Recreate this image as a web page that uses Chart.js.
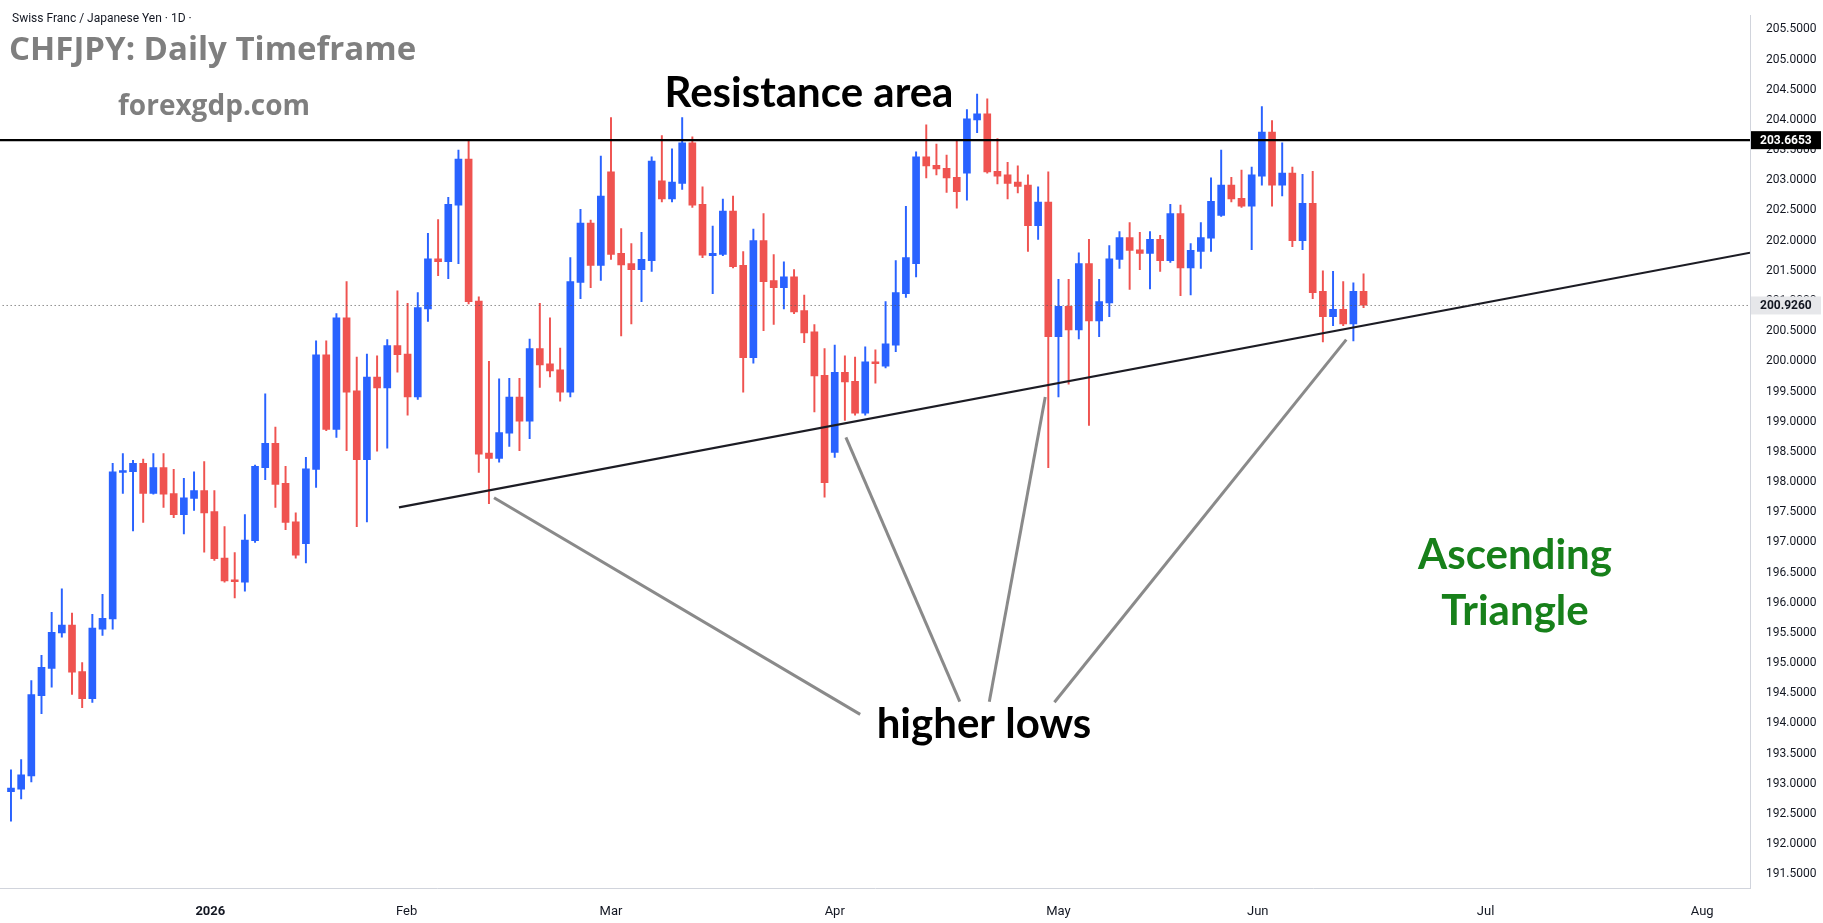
<!DOCTYPE html>
<html>
<head>
<meta charset="utf-8">
<script src="https://cdn.jsdelivr.net/npm/chart.js@4"></script>
<style>
  body { margin: 0; background: #fff; }
  #wrap { width: 1823px; height: 923px; }
</style>
</head>
<body>
<div id="wrap"><canvas id="chart" width="1823" height="923"></canvas></div>
<script>
// daily candles, index 0 = early Dec 2025
const opens  = [192.87,192.91,193.13,194.46,194.91,195.5,195.63,194.86,194.41,195.56,195.73,198.16,198.17,198.31,197.81,198.24,197.81,197.46,197.73,197.86,197.51,196.74,196.38,196.34,197.03,198.24,198.64,197.98,197.34,196.98,198.21,200.11,198.87,200.72,199.51,198.37,199.74,199.56,200.26,200.12,199.41,200.87,201.7,201.65,202.59,203.35,201.0,198.48,198.39,198.81,199.41,199.01,200.21,199.96,199.86,199.49,201.31,202.29,201.59,203.14,201.79,201.62,201.52,201.67,202.99,202.69,202.95,203.62,202.6,201.75,201.77,202.49,201.59,200.06,202.0,201.34,201.22,201.4,200.84,200.49,199.77,198.49,199.82,199.67,199.14,199.99,199.92,200.27,201.12,201.62,203.39,203.25,203.2,203.05,203.12,204.0,204.1,203.15,203.09,202.97,202.92,202.25,202.64,200.41,200.91,200.52,201.62,200.67,200.97,201.69,202.05,201.85,201.79,202.02,201.67,202.45,201.55,201.82,202.04,202.42,202.92,202.7,202.57,203.07,203.8,202.92,203.12,202.0,202.62,201.16,200.74,200.86,200.62,201.16];
const highs  = [193.23,193.4,194.71,195.13,195.84,196.23,195.83,195.01,195.81,196.14,198.31,198.47,198.36,198.38,198.47,198.47,198.21,198.06,198.17,198.34,197.86,197.26,196.83,197.46,198.28,199.46,198.91,198.26,197.49,198.41,200.34,200.34,200.79,201.32,200.07,200.12,200.09,200.36,201.17,200.96,201.14,202.12,202.35,202.72,203.5,203.68,201.07,200.0,199.71,199.72,199.72,200.37,200.96,200.72,200.22,201.72,202.52,202.34,203.4,204.04,202.2,201.95,202.14,203.39,203.74,203.52,204.04,203.72,202.89,202.24,202.69,202.74,201.82,202.19,202.45,201.77,201.65,201.52,201.1,200.61,200.21,200.27,200.09,200.07,200.24,200.19,200.99,201.67,202.57,203.47,203.92,203.6,203.42,203.67,204.17,204.43,204.35,203.69,203.3,203.24,203.09,202.89,203.14,201.36,201.36,201.8,202.02,201.36,201.92,202.15,202.3,202.14,202.15,202.09,202.6,202.59,201.95,202.3,203.04,203.5,203.05,203.17,203.22,204.22,203.99,203.62,203.22,203.1,203.15,201.5,201.49,201.32,201.3,201.45];
const lows   = [192.38,192.75,193.03,194.16,194.6,195.43,194.48,194.26,194.35,195.46,195.56,197.81,197.19,197.33,197.8,197.58,197.41,197.14,197.53,196.84,196.7,196.34,196.08,196.19,197.0,198.04,197.58,197.21,196.74,196.66,197.91,198.85,198.74,198.52,197.26,197.34,198.51,198.56,199.82,199.11,199.37,200.66,201.42,201.37,201.62,200.95,198.16,197.64,198.33,198.59,198.52,198.72,199.57,199.74,199.34,199.41,201.04,201.22,201.34,201.69,200.42,200.62,200.99,201.49,202.64,202.64,202.85,202.55,201.72,201.12,201.75,201.55,199.49,199.97,200.51,200.61,200.87,200.79,200.31,199.16,197.75,198.41,199.02,199.11,199.11,199.64,199.89,200.16,201.06,201.4,203.04,203.09,202.8,202.54,202.67,203.79,203.12,202.94,202.69,202.79,201.82,202.02,198.24,199.41,199.62,200.37,198.94,200.41,200.74,201.54,201.19,201.52,201.2,201.49,201.64,201.09,201.1,201.54,201.82,202.4,202.64,202.55,201.85,202.92,202.57,202.74,201.9,201.85,201.04,200.32,200.59,200.59,200.34,200.89];
const closes = [192.93,193.15,194.48,194.93,195.51,195.63,194.85,194.41,195.58,195.74,198.17,198.19,198.31,197.81,198.24,197.8,197.46,197.74,197.86,197.49,196.73,196.36,196.35,197.04,198.26,198.64,197.96,197.33,196.79,198.22,200.11,198.87,200.72,199.49,198.37,199.74,199.56,200.26,200.11,199.41,200.89,201.7,201.65,202.6,203.35,200.99,198.46,198.39,198.82,199.41,199.01,200.21,199.94,199.84,199.49,201.32,202.29,201.59,202.74,201.77,201.6,201.52,201.69,203.32,202.69,202.97,203.62,202.59,201.76,201.79,202.49,201.57,200.06,202.0,201.32,201.22,201.4,200.82,200.47,199.76,197.99,199.82,199.66,199.14,199.99,199.96,200.29,201.14,201.72,203.39,203.24,203.19,203.04,202.81,204.02,204.1,203.14,203.07,202.95,202.9,202.25,202.64,200.41,200.91,200.52,201.62,200.67,200.99,201.7,202.05,201.84,201.79,202.02,201.67,202.45,201.55,201.84,202.05,202.65,202.92,202.69,202.57,203.09,203.8,202.92,203.12,202.0,202.62,201.14,200.74,200.86,200.62,201.16,200.93];

// month labels sit at bar positions
const monthPos    = [19.6, 38.9, 59.0, 81.0, 103.0, 122.6, 145.0, 166.3];
const monthLabels = ['2026', 'Feb', 'Mar', 'Apr', 'May', 'Jun', 'Jul', 'Aug'];

const priceTicks = [];
for (let v = 191.5; v <= 205.5001; v += 0.5) priceTicks.push(+v.toFixed(1));

const resistance = 203.6653;
const lastPrice = 200.926;
const trendLine = [{ x: 38.15, y: 197.58 }, { x: 171, y: 201.80 }];
const pointers = [
  [{ x: 47.5, y: 197.74 }, { x: 83.5, y: 194.15 }],
  [{ x: 82.1, y: 198.74 }, { x: 93.3, y: 194.36 }],
  [{ x: 101.7, y: 199.41 }, { x: 96.2, y: 194.36 }],
  [{ x: 131.3, y: 200.36 }, { x: 102.6, y: 194.35 }]
];

const UP = '#2962ff', DOWN = '#ef5350';
const colorOf = i => closes[i] >= opens[i] ? UP : DOWN;

const bodies = opens.map((o, i) => {
  let c = closes[i];
  if (Math.abs(c - o) < 0.02) c = o + (c >= o ? 0.02 : -0.02);
  return { x: i, y: [o, c] };
});
const wicks = opens.map((o, i) => ({ x: i, y: [lows[i], highs[i]] }));

const datasets = [
  { type: 'bar', data: wicks, backgroundColor: opens.map((o, i) => colorOf(i)), barThickness: 1.3, grouped: false, order: 2 },
  { type: 'bar', data: bodies, backgroundColor: opens.map((o, i) => colorOf(i)), barThickness: 7, grouped: false, order: 1 },
  { type: 'line', data: [{ x: -2, y: resistance }, { x: 172, y: resistance }], borderColor: '#000', borderWidth: 2.2, pointRadius: 0, order: 0 },
  { type: 'line', data: [{ x: -2, y: lastPrice }, { x: 172, y: lastPrice }], borderColor: '#555', borderWidth: 1, borderDash: [1, 3], pointRadius: 0, order: 0 },
  { type: 'line', data: trendLine, borderColor: '#1c1c24', borderWidth: 2.2, pointRadius: 0, order: 0 }
];
pointers.forEach(p => datasets.push({ type: 'line', data: p, borderColor: '#8a8a8a', borderWidth: 3, pointRadius: 0, order: 0 }));

const overlay = {
  id: 'overlay',
  afterDraw(chart) {
    const g = chart.ctx, y = chart.scales.y, area = chart.chartArea;
    g.save();
    g.textBaseline = 'middle';
    g.fillStyle = '#131722';
    g.font = '12px Roboto';
    g.fillText('Swiss Franc / Japanese Yen · 1D ·', 12, 19);
    g.fillStyle = '#7f7f7f';
    g.font = 'bold 33px "Open Sans"';
    g.fillText('CHFJPY: Daily Timeframe', 9, 51);
    g.font = 'bold 28px "Open Sans"';
    g.fillText('forexgdp.com', 118, 107);
    g.fillStyle = '#000';
    g.font = 'bold 42px Lato';
    g.textAlign = 'center';
    g.fillText('Resistance area', 809, 93);
    g.fillText('higher lows', 984, 724);
    g.fillStyle = '#17801a';
    g.fillText('Ascending', 1515, 555);
    g.fillText('Triangle', 1515, 611);

    // last value boxes on the price axis
    g.textAlign = 'left';
    g.font = 'bold 12px Roboto';
    const box = (v, bg, fg) => {
      const py = y.getPixelForValue(v);
      g.fillStyle = bg;
      g.fillRect(area.right + 1, py - 9, 70, 18);
      g.fillStyle = fg;
      g.fillText(v.toFixed(4), area.right + 10, py + 1);
    };
    box(resistance, '#000', '#fff');
    box(lastPrice, '#e6e7ea', '#131722');
    g.restore();
  }
};

new Chart(document.getElementById('chart'), {
  data: { datasets },
  options: {
    responsive: false,
    animation: false,
    layout: { padding: 0 },
    plugins: { legend: { display: false }, tooltip: { enabled: false } },
    scales: {
      x: {
        type: 'linear', min: -1.08, max: 171.0, offset: false,
        afterFit: s => { s.height = 35; },
        afterBuildTicks: s => { s.ticks = monthPos.map(v => ({ value: v })); },
        ticks: {
          autoSkip: false, maxRotation: 0, color: '#131722', padding: 8,
          font: c => ({ family: 'Roboto', size: 13, weight: c.index === 0 ? 'bold' : 'normal' }),
          callback: (v, i) => monthLabels[i]
        },
        grid: { display: false },
        border: { color: '#d1d4dc' }
      },
      y: {
        position: 'right', min: 191.273, max: 205.736,
        afterFit: s => { s.width = 73; },
        afterBuildTicks: s => { s.ticks = priceTicks.map(v => ({ value: v })); },
        ticks: { autoSkip: false, color: '#131722', padding: 8, font: { family: 'Roboto', size: 12 }, callback: v => v.toFixed(4) },
        grid: { display: false },
        border: { color: '#d1d4dc' }
      }
    }
  },
  plugins: [overlay]
});
</script>
</body>
</html>
